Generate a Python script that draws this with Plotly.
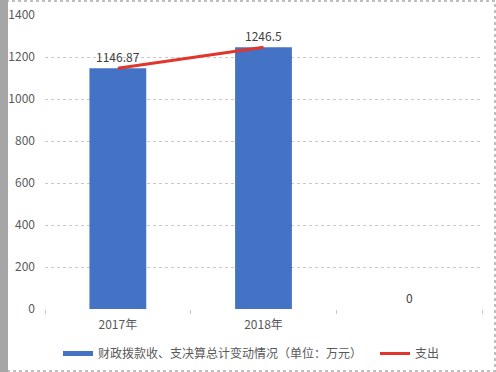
import plotly.graph_objects as go

categories = ["2017年", "2018年", " "]
bar_values = [1146.87, 1246.5, 0]
line_values = [1146.87, 1246.5, None]
bar_labels = ["1146.87", "1246.5", "0"]
bar_name = "财政拨款收、支决算总计变动情况（单位：万元）"
line_name = "支出"

W, H = 496, 372
ml, mr, mt, mb = 45, 14, 15, 63
pw, ph = W - ml - mr, H - mt - mb

def px(x):
    return (x - ml) / pw

def py(y):
    return 1 - (y - mt) / ph

font = "Noto Sans CJK SC, Liberation Sans, sans-serif"

fig = go.Figure()
fig.add_trace(go.Bar(
    x=categories, y=bar_values, name=bar_name, showlegend=False,
    marker=dict(color="#4472C4", line=dict(width=0)),
    width=0.39, hoverinfo="x+y",
))
fig.add_trace(go.Scatter(
    x=[None], y=[None], name=bar_name, mode="lines",
    line=dict(color="#4472C4", width=5), legend="legend",
))
fig.add_trace(go.Scatter(
    x=categories, y=line_values, name=line_name, mode="lines",
    line=dict(color="#E0362C", width=3), legend="legend2",
))

for c, v, t in zip(categories, bar_values, bar_labels):
    fig.add_annotation(x=c, y=v, text=t, showarrow=False, yanchor="bottom",
                       yshift=1, font=dict(color="#404040", size=12, family=font))

leg_common = dict(orientation="h", xanchor="left", y=-0.102, yanchor="top",
                  font=dict(size=12, color="#595959"), itemwidth=30)

fig.update_layout(
    width=W, height=H,
    margin=dict(l=ml, r=mr, t=mt, b=mb, autoexpand=False),
    paper_bgcolor="white", plot_bgcolor="white",
    font=dict(family=font, size=12, color="#595959"),
    showlegend=True,
    legend=dict(x=px(58), **leg_common),
    legend2=dict(x=px(375), **leg_common),
    xaxis=dict(
        automargin=False,
        showgrid=False, showline=False, zeroline=False,
        ticks="outside", tickson="boundaries", ticklen=4, tickcolor="#C8C8C8",
        tickfont=dict(size=12, color="#595959"), ticklabelstandoff=7,
    ),
    yaxis=dict(
        automargin=False,
        range=[0, 1400], dtick=200, showgrid=True, gridcolor="#C8C8C8",
        griddash="dot", gridwidth=1, zeroline=False, showline=False,
        tickfont=dict(size=12, color="#595959"), ticks="", ticklabelstandoff=9,
    ),
)

# outer frame
fig.add_shape(type="rect", xref="paper", yref="paper",
              x0=px(1), x1=px(W - 1), y0=py(H - 1), y1=py(1),
              line=dict(color="#BFBFBF", width=2, dash="dot"), layer="above")
fig.add_shape(type="rect", xref="paper", yref="paper",
              x0=px(0), x1=px(8), y0=py(H), y1=py(0),
              line=dict(width=0), fillcolor="#A6A6A6", layer="above")

fig.write_html("out.html", config={"displayModeBar": False},
               post_script="document.body.style.margin='0';document.body.style.overflow='hidden';")
